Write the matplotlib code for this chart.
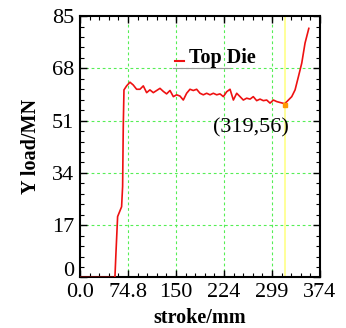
import numpy as np
import matplotlib
matplotlib.use('Agg')
import matplotlib.pyplot as plt
from matplotlib.ticker import AutoMinorLocator, FixedLocator
import matplotlib.transforms as mtransforms

plt.rcParams['font.family'] = ['Liberation Serif', 'DejaVu Serif']

# stroke (mm) and Y load (MN)
stroke = [0, 54.5, 56.1, 58.7, 64.9, 66.5, 67.5, 68.6, 72.7, 77.9, 83, 88.3, 93.5, 98.7,
          103.9, 109, 114.3, 119.5, 124.7, 129.9, 135, 140.3, 145.5, 150.6, 155.8, 161,
          166.2, 171.4, 176.6, 181.8, 187, 192.2, 197.4, 202.6, 207.8, 213, 218.2, 223.4,
          228.6, 233.8, 239, 244.2, 249.4, 254.5, 259.7, 265, 270, 275.3, 280.5, 285.7,
          290.9, 296.1, 301.3, 306.5, 311.7, 319, 324.7, 329.9, 335.1, 340.3, 345.5,
          350.6, 356.5]
load = [0, 0, 7.9, 19.8, 23, 29.6, 49, 61, 62.3, 63.5, 62.6, 61.2, 61.2, 62.3,
        60.1, 61, 60.1, 60.8, 61.5, 60.5, 59.7, 60.8, 58.8, 59.4, 59, 57.7,
        59.9, 61.2, 60.8, 61.2, 59.9, 59.4, 59.9, 59.4, 59.9, 59.4, 59.7, 58.8,
        60.4, 61.2, 57.7, 59.9, 58.8, 57.7, 58.3, 58, 58.8, 57.5, 58, 57.5,
        57.7, 56.7, 57.7, 57.2, 56.9, 56.5, 57.7, 58.8, 61, 65.3, 69.7,
        76.2, 81]

xticks = [0, 74.8, 150, 224, 299, 374]
xticklabels = ['0.0', '74.8', '150', '224', '299', '374']
yticks = [0, 17, 34, 51, 68, 85]
mark_x, mark_y = 319, 56

fig = plt.figure(figsize=(3.46, 3.28), dpi=100)
ax = fig.add_axes([0.231, 0.154, 0.694, 0.797])

# grid lines (only inner ones)
for xv in xticks[1:-1]:
    ax.axvline(xv, color='#55ee55', ls=(0, (2.5, 2.5)), lw=0.8, zorder=1)
for yv in yticks[1:-1]:
    ax.axhline(yv, color='#55ee55', ls=(0, (2.5, 2.5)), lw=0.8, zorder=1)

ax.axvline(mark_x, color='#ffff88', lw=1.2, zorder=2)
ax.plot(stroke, load, color='#ee1111', lw=1.2, zorder=3)
ax.plot([mark_x], [mark_y], 's', color='#ff9900', ms=3, zorder=4)
ax.text(267, 48.5, '(319,56)', fontsize=16, ha='center', va='center')

# legend
ax.plot([148, 162], [70.3, 70.3], color='#ee1111', lw=1.5, zorder=5)
ax.text(170, 71.3, 'Top Die', fontsize=14.5, fontweight='bold', ha='left', va='center', zorder=5)
ax.plot([145, 234], [68, 68], color='#999999', lw=0.8, zorder=1.5)

ax.set_xlim(0, 374)
ax.set_ylim(0, 85)
ax.xaxis.set_major_locator(FixedLocator(xticks))
ax.set_xticklabels(xticklabels)
ax.yaxis.set_major_locator(FixedLocator(yticks))
ax.xaxis.set_minor_locator(AutoMinorLocator(5))
ax.yaxis.set_minor_locator(AutoMinorLocator(5))
ax.tick_params(which='both', direction='in', top=True, right=True, labelsize=16, pad=4)
ax.tick_params(which='major', length=5, width=1)
ax.tick_params(which='minor', length=3, width=0.8)
for s in ax.spines.values():
    s.set_linewidth(1.5)

# the "0" label sits a bit above the bottom edge
lab0 = ax.get_yticklabels()[0]
lab0.set_transform(lab0.get_transform() + mtransforms.ScaledTranslation(0, 8 / 100, fig.dpi_scale_trans))

ax.set_xlabel('stroke/mm', fontsize=14.5, fontweight='bold', labelpad=4)
ax.set_ylabel('Y load/MN', fontsize=14.5, fontweight='bold', labelpad=8)

plt.savefig('out.png', dpi=100)
